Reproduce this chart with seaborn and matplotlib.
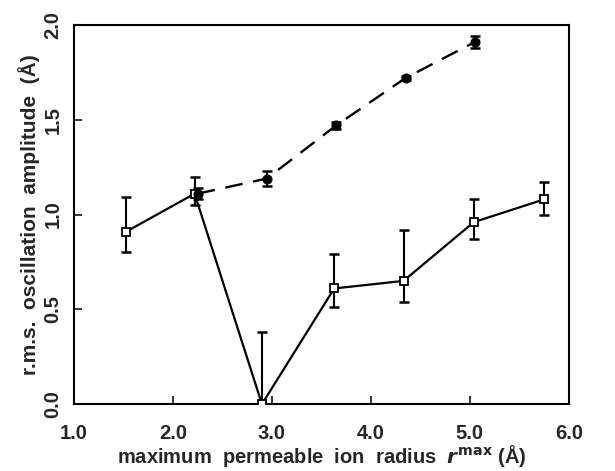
import matplotlib
matplotlib.use("Agg")
import matplotlib.pyplot as plt
import seaborn as sns
import numpy as np
import pandas as pd

# Solid line, open squares
sq_x = [1.53, 2.22, 2.90, 3.63, 4.33, 5.04, 5.75]
sq_y = [0.91, 1.11, 0.00, 0.61, 0.65, 0.96, 1.08]
sq_lo = [0.80, 1.05, 0.00, 0.51, 0.54, 0.87, 1.00]
sq_hi = [1.09, 1.20, 0.38, 0.79, 0.92, 1.08, 1.17]

# Dashed line, filled circles
ci_x = [2.25, 2.95, 3.65, 4.35, 5.05]
ci_y = [1.11, 1.19, 1.47, 1.72, 1.91]
ci_lo = [1.08, 1.15, 1.45, 1.71, 1.88]
ci_hi = [1.14, 1.23, 1.49, 1.73, 1.94]

xticks = [1.0, 2.0, 3.0, 4.0, 5.0, 6.0]
yticks = [0.0, 0.5, 1.0, 1.5, 2.0]

sns.set_style("white")
plt.rcParams['font.family'] = ['Liberation Sans', 'DejaVu Sans']
plt.rcParams['font.weight'] = 'bold'

fig = plt.figure(figsize=(6.15, 4.71), dpi=100)
ax = fig.add_axes([0.120, 0.142, 0.805, 0.805])

df_sq = pd.DataFrame({"x": sq_x, "y": sq_y})
df_ci = pd.DataFrame({"x": ci_x, "y": ci_y})

ax.errorbar(sq_x, sq_y,
            yerr=[np.array(sq_y) - np.array(sq_lo), np.array(sq_hi) - np.array(sq_y)],
            fmt='none', ecolor='black', elinewidth=1.5, capsize=3.5, capthick=1.8, zorder=2)
ax.errorbar(ci_x, ci_y,
            yerr=[np.array(ci_y) - np.array(ci_lo), np.array(ci_hi) - np.array(ci_y)],
            fmt='none', ecolor='black', elinewidth=1.5, capsize=3.5, capthick=1.8, zorder=2)

sns.lineplot(data=df_sq, x="x", y="y", ax=ax, color='black', linewidth=1.6,
             marker='s', markersize=5.5, markerfacecolor='white',
             markeredgecolor='black', markeredgewidth=1.3, zorder=3)
sns.lineplot(data=df_ci, x="x", y="y", ax=ax, color='black', linewidth=1.7,
             linestyle=(0, (7.5, 4.5)), marker='o', markersize=6.5,
             markerfacecolor='black', markeredgecolor='black', zorder=3)

ax.set_xlim(1.0, 6.0)
ax.set_ylim(0.0, 2.0)
ax.set_xticks(xticks)
ax.set_xticklabels([f"{v:.1f}" for v in xticks], fontsize=14.5, fontweight='bold')
ax.set_yticks(yticks)
ax.set_yticklabels([f"{v:.1f}" for v in yticks], fontsize=14.5, fontweight='bold',
                   rotation=90, va='center')
ax.tick_params(axis='x', direction='in', length=6, width=1.3, pad=14)
ax.tick_params(axis='y', direction='in', length=6, width=1.3, pad=8)
ax.tick_params(top=False, right=False, bottom=True, left=True)

for s in ax.spines.values():
    s.set_linewidth(1.5)
    s.set_color('black')

ax.set_xlabel(r"maximum  permeable  ion  radius  $r^{\mathbf{max}}$ (Å)",
              fontsize=14.5, fontweight='bold', labelpad=0)
ax.set_ylabel("r.m.s.  oscillation  amplitude  (Å)", fontsize=15,
              fontweight='bold', labelpad=3)

fig.savefig("out.png", dpi=100)
